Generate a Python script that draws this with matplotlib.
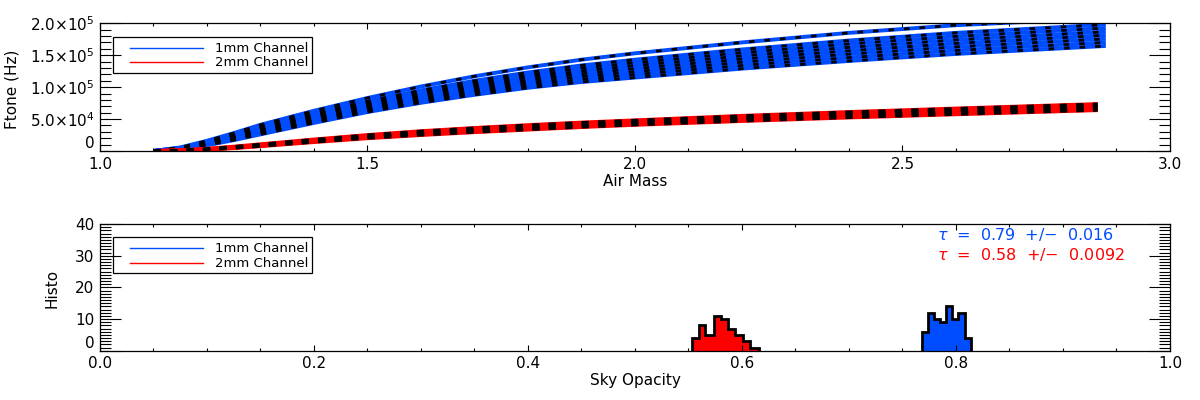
import matplotlib
matplotlib.use('Agg')
import matplotlib.pyplot as plt
from matplotlib.ticker import MultipleLocator
from matplotlib.patches import Rectangle
from matplotlib.lines import Line2D

# Ftone vs air mass, values in units of 1e5 Hz
airmass_1mm = [1.1, 1.15, 1.2, 1.25, 1.3, 1.4, 1.5, 1.6, 1.7, 1.8, 1.9, 2.0, 2.2, 2.4, 2.6, 2.88]
ftone_1mm = [
    [0, .030, .09, .170, .26, .440, .610, .755, .880, .99, 1.080, 1.150, 1.29, 1.410, 1.520, 1.645],
    [0, .033, .10, .185, .28, .465, .638, .788, .917, 1.03, 1.123, 1.197, 1.34, 1.463, 1.575, 1.700],
    [0, .037, .11, .200, .30, .490, .667, .820, .953, 1.07, 1.167, 1.243, 1.39, 1.517, 1.630, 1.757],
    [0, .040, .12, .215, .32, .515, .695, .853, .990, 1.11, 1.210, 1.290, 1.44, 1.570, 1.685, 1.813],
    [0, .043, .13, .230, .34, .540, .723, .885, 1.027, 1.15, 1.253, 1.337, 1.49, 1.623, 1.740, 1.868],
    [0, .047, .14, .245, .36, .565, .752, .918, 1.063, 1.19, 1.297, 1.383, 1.54, 1.677, 1.795, 1.925],
    [0, .050, .15, .260, .38, .590, .780, .950, 1.100, 1.23, 1.340, 1.430, 1.59, 1.730, 1.850, 1.980],
    [0, .055, .16, .280, .41, .630, .830, 1.010, 1.170, 1.31, 1.430, 1.530, 1.70, 1.850, 1.970, 2.080],
]
airmass_2mm = [1.1, 1.15, 1.2, 1.25, 1.3, 1.4, 1.5, 1.6, 1.7, 1.8, 1.9, 2.0, 2.2, 2.4, 2.6, 2.865]
ftone_2mm = [
    [0, .005, .020, .045, .075, .140, .200, .250, .295, .335, .375, .410, .470, .525, .575, .640],
    [0, .007, .025, .053, .085, .153, .217, .270, .317, .358, .398, .433, .497, .553, .605, .672],
    [0, .008, .030, .060, .095, .167, .233, .290, .338, .382, .422, .457, .523, .582, .635, .703],
    [0, .010, .035, .068, .105, .180, .250, .310, .360, .405, .445, .480, .550, .610, .665, .735],
]

# sky opacity histograms
opacity_edges_1mm = [0.768, 0.7741, 0.7797, 0.7850, 0.7907, 0.7960, 0.8021, 0.8084, 0.8137]
counts_1mm = [6, 12, 10, 9, 14, 10, 12, 4]
opacity_edges_2mm = [0.553, 0.5595, 0.5654, 0.5738, 0.5804, 0.5872, 0.5937, 0.6007, 0.6075, 0.616]
counts_2mm = [4, 8, 5, 11, 10, 7, 5, 3, 1]

tau_1mm = '0.79  +/\u2212  0.016'
tau_2mm = '0.58  +/\u2212  0.0092'

ftone_ticks = [0, 5e4, 1e5, 1.5e5, 2e5]
ftone_labels = ['0', '5.0\u00d710$^{4}$', '1.0\u00d710$^{5}$',
                '1.5\u00d710$^{5}$', '2.0\u00d710$^{5}$']

BLUE = '#004cff'
RED = '#ff0000'

plt.rcParams['font.family'] = ['DejaVu Sans']
plt.rcParams['font.size'] = 11
plt.rcParams['axes.linewidth'] = 0.9


def idl_axes(ax):
    ax.tick_params(which='both', direction='in', top=True, right=True,
                   width=0.8, colors='black')
    ax.tick_params(axis='y', which='major', length=15, pad=4)
    ax.tick_params(axis='y', which='minor', length=8)
    ax.tick_params(axis='x', which='major', length=4, pad=4)
    ax.tick_params(axis='x', which='minor', length=2)


def legend_box(ax, y0, y1, yl1, yl2):
    ax.add_patch(Rectangle((0.0119, y0), 0.186, y1 - y0, transform=ax.transAxes,
                           fill=False, edgecolor='black', linewidth=0.9, zorder=10))
    for yy, col, lab in [(yl1, BLUE, '1mm Channel'), (yl2, RED, '2mm Channel')]:
        ax.add_line(Line2D([0.028, 0.0963], [yy, yy], transform=ax.transAxes,
                           color=col, linewidth=1.0, zorder=11))
        ax.text(0.1075, yy, lab, transform=ax.transAxes, va='center',
                ha='left', fontsize=9.5, zorder=11)


fig = plt.figure(figsize=(12, 4), dpi=100)
ax1 = fig.add_axes([0.0833, 0.6225, 0.8917, 0.3193])
ax2 = fig.add_axes([0.0833, 0.1233, 0.8917, 0.3167])

# ---- top panel: Ftone vs air mass (blue/red data, black dashed fits)
for curve in ftone_1mm:
    ax1.plot(airmass_1mm, [v * 1e5 for v in curve], color=BLUE, linewidth=2.8,
             solid_capstyle='butt')
for curve in ftone_1mm:
    ax1.plot(airmass_1mm, [v * 1e5 for v in curve], color='black', linewidth=2.0,
             dashes=(2.0, 3.6), dash_capstyle='butt')
for curve in ftone_2mm:
    ax1.plot(airmass_2mm, [v * 1e5 for v in curve], color=RED, linewidth=2.8,
             solid_capstyle='butt')
for curve in ftone_2mm:
    ax1.plot(airmass_2mm, [v * 1e5 for v in curve], color='black', linewidth=2.2,
             dashes=(2.4, 3.0), dash_capstyle='butt')

ax1.set_xlim(1.0, 3.0)
ax1.set_ylim(0, 2e5)
ax1.set_xticks([1.0, 1.5, 2.0, 2.5, 3.0], ['1.0', '1.5', '2.0', '2.5', '3.0'])
ax1.xaxis.set_minor_locator(MultipleLocator(0.1))
ax1.set_yticks(ftone_ticks, ftone_labels)
ax1.yaxis.set_minor_locator(MultipleLocator(1e4))
idl_axes(ax1)
ax1.yaxis.get_major_ticks()[0].label1.set_verticalalignment('bottom')
ax1.set_xlabel('Air Mass')
ax1.xaxis.set_label_coords(0.5, -0.274)
ax1.xaxis.label.set_verticalalignment('baseline')
ax1.set_ylabel('Ftone (Hz)')
ax1.yaxis.set_label_coords(-0.075, 0.48)
legend_box(ax1, 0.613, 0.890, 0.806, 0.696)

# ---- bottom panel: sky opacity histograms
ax2.stairs(counts_2mm, opacity_edges_2mm, fill=True, facecolor=RED,
           edgecolor='black', linewidth=2.0)
ax2.stairs(counts_1mm, opacity_edges_1mm, fill=True, facecolor=BLUE,
           edgecolor='black', linewidth=2.0)
ax2.set_xlim(0, 1)
ax2.set_ylim(0, 40)
ax2.set_xticks([0, 0.2, 0.4, 0.6, 0.8, 1.0], ['0.0', '0.2', '0.4', '0.6', '0.8', '1.0'])
ax2.xaxis.set_minor_locator(MultipleLocator(0.05))
ax2.set_yticks([0, 10, 20, 30, 40], ['0', '10', '20', '30', '40'])
ax2.yaxis.set_minor_locator(MultipleLocator(1))
idl_axes(ax2)
ax2.yaxis.get_major_ticks()[0].label1.set_verticalalignment('bottom')
ax2.set_xlabel('Sky Opacity')
ax2.xaxis.set_label_coords(0.5, -0.267)
ax2.xaxis.label.set_verticalalignment('baseline')
ax2.set_ylabel('Histo')
ax2.yaxis.set_label_coords(-0.0374, 0.495)
legend_box(ax2, 0.611, 0.895, 0.808, 0.690)

ax2.text(0.782, 0.921, r'$\tau$  =  ' + tau_1mm, transform=ax2.transAxes,
         color=BLUE, va='center', ha='left', fontsize=11.5)
ax2.text(0.782, 0.763, r'$\tau$  =  ' + tau_2mm, transform=ax2.transAxes,
         color=RED, va='center', ha='left', fontsize=11.5)

fig.savefig('out.png', dpi=100)
